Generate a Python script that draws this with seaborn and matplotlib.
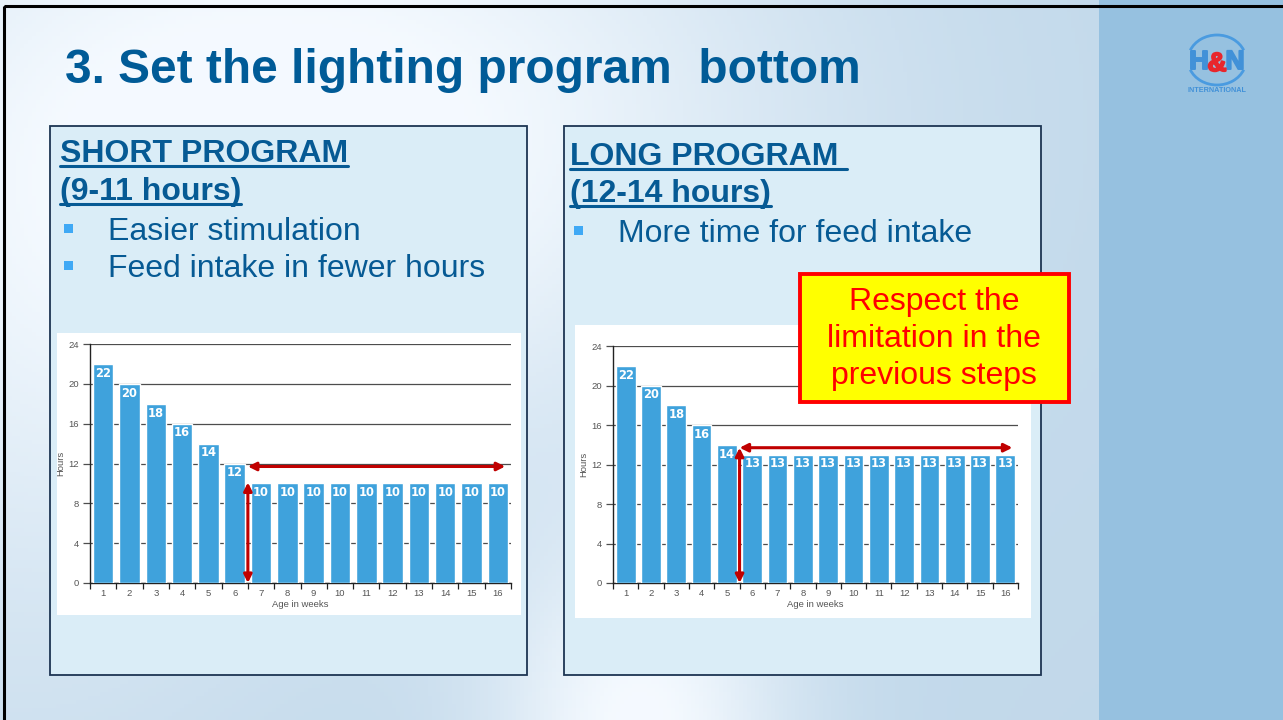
import numpy as np
import matplotlib
matplotlib.use("Agg")
import matplotlib.pyplot as plt
from matplotlib.patches import Rectangle, Arc
import matplotlib.patheffects as pe
import seaborn as sns

sns.set_style("white")
plt.rcParams['font.family'] = ['Liberation Sans', 'DejaVu Sans']

# data
weeks = [1, 2, 3, 4, 5, 6, 7, 8, 9, 10, 11, 12, 13, 14, 15, 16]
short_hours = [22, 20, 18, 16, 14, 12, 10, 10, 10, 10, 10, 10, 10, 10, 10, 10]
long_hours = [22, 20, 18, 16, 14, 13, 13, 13, 13, 13, 13, 13, 13, 13, 13, 13]
y_ticks = [0, 4, 8, 12, 16, 20, 24]

title = "3. Set the lighting program  bottom"
short_head = ["SHORT PROGRAM", "(9-11 hours)"]
short_bullets = ["Easier stimulation", "Feed intake in fewer hours"]
long_head = ["LONG PROGRAM ", "(12-14 hours)"]
long_bullets = ["More time for feed intake"]
note = "Respect the\nlimitation in the\nprevious steps"

BAR = '#3fa2dc'
RED = '#c00000'
TXT = '#065a94'
W, H = 1283, 720

fig = plt.figure(figsize=(W / 100, H / 100), dpi=100)

# background in pixel coordinates
bg = fig.add_axes([0, 0, 1, 1], zorder=0)
bg.set_xlim(0, W)
bg.set_ylim(H, 0)
bg.axis('off')

yy, xx = np.mgrid[0:H:4, 0:W:4]
g1 = np.exp(-((xx - 380) / 430.0) ** 2 - ((yy - 130) / 330.0) ** 2)
g2 = np.exp(-((xx - 640) / 150.0) ** 2 - ((yy - 730) / 190.0) ** 2)
g3 = np.exp(-((xx - 0) / 300.0) ** 2 - ((yy - 300) / 500.0) ** 2) * 0.5
wgt = np.clip(g1 + g2 + g3, 0, 1)[..., None]
base = np.array([0.76, 0.85, 0.92])
white = np.array([0.96, 0.98, 1.0])
img = base * (1 - wgt) + white * wgt
img[xx >= 1100] = [0.59, 0.76, 0.88]
bg.imshow(img, extent=(0, W, H, 0), aspect='auto', zorder=0)
bg.add_patch(Rectangle((4, 6), W + 10, H + 10, fill=False, ec='black', lw=2.2, zorder=1))

# logo
bg.add_patch(Arc((1217, 60), 58, 50, theta1=200, theta2=340, color='#4a9be0', lw=2, zorder=2))
bg.add_patch(Arc((1217, 60), 58, 50, theta1=20, theta2=160, color='#4a9be0', lw=2, zorder=2))
thick_b = [pe.withStroke(linewidth=1.4, foreground='#4191d8')]
thick_r = [pe.withStroke(linewidth=1.4, foreground='#e8262d')]
bg.text(1199, 62, "H", color='#4191d8', fontsize=19, fontweight='bold', ha='center', va='center',
        zorder=3, path_effects=thick_b)
bg.text(1217, 64, "&", color='#e8262d', fontsize=19, fontweight='bold', ha='center', va='center',
        zorder=4, path_effects=thick_r)
bg.text(1235, 62, "N", color='#4191d8', fontsize=19, fontweight='bold', ha='center', va='center',
        zorder=3, path_effects=thick_b)
bg.text(1217, 91, "INTERNATIONAL", color='#4191d8', fontsize=5.2, fontweight='bold', ha='center', va='center', zorder=3)

# title
bg.text(65, 83, title, color='#005b97', fontsize=34.5, fontweight='bold', va='baseline', zorder=3)

# panels and white chart backgrounds
for x0, x1 in [(50, 527), (564, 1041)]:
    bg.add_patch(Rectangle((x0, 126), x1 - x0, 549, fc='#daedf7', ec='#1d3553', lw=1.3, zorder=2))
bg.add_patch(Rectangle((57, 333), 464, 282, fc='white', ec='none', zorder=3))
bg.add_patch(Rectangle((575, 325), 456, 293, fc='white', ec='none', zorder=3))

fig.canvas.draw()
renderer = fig.canvas.get_renderer()


def panel_text(x, heads, bullets, head_y, bullet_y):
    for i, h in enumerate(heads):
        t = bg.text(x, head_y[i], h, color=TXT, fontsize=23, fontweight='bold', va='baseline', zorder=4)
        bb = t.get_window_extent(renderer)
        bg.plot([x, x + bb.width], [head_y[i] + 4, head_y[i] + 4], color=TXT, lw=2.2, zorder=4)
    for i, b in enumerate(bullets):
        bg.add_patch(Rectangle((x + 4, bullet_y[i] - 16), 8.5, 8.5, fc='#3fa9f5', ec='none', zorder=4))
        bg.text(x + 48, bullet_y[i], b, color=TXT, fontsize=23, va='baseline', zorder=4)


panel_text(60, short_head, short_bullets, [162, 200], [240, 277])
panel_text(570, long_head, long_bullets, [165, 202], [242])


def draw_chart(rect, hours):
    ax = fig.add_axes(rect, zorder=5)
    ax.set_facecolor('none')
    sns.barplot(x=weeks, y=hours, color=BAR, saturation=1, width=0.78, ax=ax, zorder=3)
    ax.set_xlim(-0.5, len(weeks) - 0.5)
    ax.set_ylim(0, 24)
    ax.set_yticks(y_ticks)
    ax.yaxis.grid(True, color='#4d4d4d', lw=0.9)
    ax.xaxis.grid(False)
    ax.set_axisbelow(True)
    for s in ['top', 'right']:
        ax.spines[s].set_visible(False)
    for s in ['left', 'bottom']:
        ax.spines[s].set_color('#222222')
        ax.spines[s].set_linewidth(1.0)
    ax.tick_params(axis='y', length=5, width=0.9, color='#4d4d4d', labelsize=6.8, labelcolor='#555555', pad=3, left=True)
    ax.tick_params(axis='x', which='major', length=0, labelsize=6.8, labelcolor='#555555', pad=4)
    ax.set_xticks(np.arange(-0.5, len(weeks), 1), minor=True)
    ax.tick_params(axis='x', which='minor', length=4, width=0.9, color='#222222', direction='out', bottom=True)
    ax.set_xlabel("Age in weeks", fontsize=6.8, color='#555555', labelpad=2)
    ax.set_ylabel("Hours", fontsize=6.8, color='#555555', labelpad=2)
    for p in ax.patches:
        ax.annotate(f"{p.get_height():.0f}", (p.get_x() + p.get_width() / 2, p.get_height()),
                    xytext=(0, -2), textcoords='offset points', ha='center', va='top',
                    color='white', fontsize=8.3, fontweight='bold', family='DejaVu Sans', zorder=4)
    # red arrows: start where the flat part begins
    plateau = hours[-1]
    start = hours.index(plateau) - 0.5
    top_y = max(plateau + 0.6, hours[hours.index(plateau) - 1] - 0.3)
    ax.annotate('', xy=(len(weeks) - 0.72, top_y), xytext=(start, top_y),
                arrowprops=dict(arrowstyle='<|-|>', color=RED, lw=2.2, mutation_scale=12,
                                shrinkA=0, shrinkB=0), annotation_clip=False, zorder=6)
    vert_y = plateau + 0.1 if plateau < 12 else top_y
    ax.annotate('', xy=(start, vert_y), xytext=(start, 0),
                arrowprops=dict(arrowstyle='<|-|>', color=RED, lw=2.2, mutation_scale=12,
                                shrinkA=0, shrinkB=0), annotation_clip=False, zorder=6)
    return ax


draw_chart([90 / W, 1 - 583 / H, 421 / W, 239 / H], short_hours)
draw_chart([613 / W, 1 - 583 / H, 405 / W, 237 / H], long_hours)

# note box on top
top = fig.add_axes([0, 0, 1, 1], zorder=20)
top.set_xlim(0, W)
top.set_ylim(H, 0)
top.axis('off')
top.patch.set_alpha(0)
top.add_patch(Rectangle((800, 274), 269, 128, fc='#ffff00', ec='#ff0000', lw=2.8, zorder=2))
top.text(934, 339, note, color='#ff0000', fontsize=23, ha='center', va='center', linespacing=1.3, zorder=3)

fig.savefig("out.png", dpi=100)
